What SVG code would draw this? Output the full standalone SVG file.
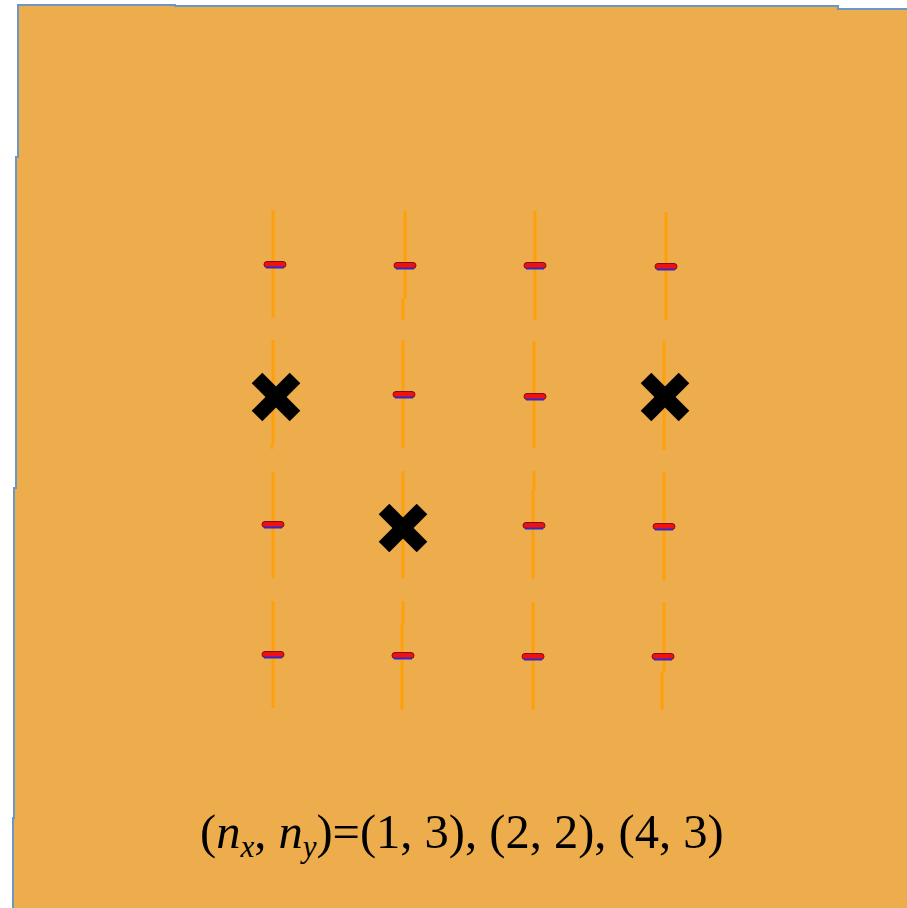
<svg xmlns="http://www.w3.org/2000/svg" width="907" height="908" viewBox="0 0 907 908">
<style>
.bg{fill:#EDAD4C}
.edge{fill:none;stroke:#6A97C4;stroke-width:2}
.ln{stroke:#FF9F0A;stroke-width:3;fill:none}
.mk{fill:#F01010;stroke:#7A1010;stroke-width:1}
.mb{stroke:#2A2AD0;stroke-width:2}
.x{stroke:#000;stroke-width:15;stroke-linecap:butt}
.t{font-family:"Liberation Serif","Times New Roman",serif;font-size:48.5px;fill:#000}
</style>
<defs>
<g id="marker">
<rect class="mk" x="-11" y="-3.5" width="22" height="6" rx="3"/>
<line class="mb" x1="-9" y1="2.5" x2="9" y2="2.5"/>
</g>
<g id="xmark">
<line class="x" x1="-19" y1="-19" x2="19" y2="19"/>
<line class="x" x1="-19" y1="19" x2="19" y2="-19"/>
</g>
</defs>
<rect width="907" height="908" fill="#FFFFFF"/>
<polygon class="bg" points="18,5 175,5 175,6 838,6 838,9 907,9 907,908 13,908 13,818 14,818 14,488 16,488 16,157 18,157"/>
<polyline class="edge" points="13,908 13,818 14,818 14,488 16,488 16,157 18,157 18,5 175,5 175,6 838,6 838,9 907,9"/>
<g id="connectors">
<line class="ln" x1="273" y1="210" x2="273" y2="318"/>
<line class="ln" x1="273" y1="340" x2="273" y2="444"/>
<line class="ln" x1="272" y1="444" x2="272" y2="449"/>
<line class="ln" x1="273" y1="472" x2="273" y2="578"/>
<line class="ln" x1="273" y1="601" x2="273" y2="708"/>
<line class="ln" x1="405" y1="211" x2="405" y2="299"/>
<line class="ln" x1="403" y1="299" x2="403" y2="320"/>
<line class="ln" x1="403" y1="340" x2="403" y2="448"/>
<line class="ln" x1="403" y1="471" x2="403" y2="578"/>
<line class="ln" x1="403" y1="601" x2="403" y2="624"/>
<line class="ln" x1="402" y1="624" x2="402" y2="710"/>
<line class="ln" x1="535" y1="211" x2="535" y2="320"/>
<line class="ln" x1="534" y1="341" x2="534" y2="448"/>
<line class="ln" x1="534" y1="471" x2="534" y2="490"/>
<line class="ln" x1="533" y1="490" x2="533" y2="579"/>
<line class="ln" x1="533" y1="602" x2="533" y2="710"/>
<line class="ln" x1="666" y1="212" x2="666" y2="320"/>
<line class="ln" x1="664" y1="341" x2="664" y2="450"/>
<line class="ln" x1="664" y1="472" x2="664" y2="580"/>
<line class="ln" x1="664" y1="602" x2="664" y2="672"/>
<line class="ln" x1="662" y1="672" x2="662" y2="710"/>
</g>
<g id="node-r1c1"><use href="#marker" x="275" y="265"/></g>
<g id="node-r1c2"><use href="#marker" x="405" y="266"/></g>
<g id="node-r1c3"><use href="#marker" x="535" y="266"/></g>
<g id="node-r1c4"><use href="#marker" x="666" y="267"/></g>
<g id="node-r2c2"><use href="#marker" x="404" y="395"/></g>
<g id="node-r2c3"><use href="#marker" x="535" y="397"/></g>
<g id="node-r3c1"><use href="#marker" x="273" y="525"/></g>
<g id="node-r3c3"><use href="#marker" x="534" y="526"/></g>
<g id="node-r3c4"><use href="#marker" x="664" y="527"/></g>
<g id="node-r4c1"><use href="#marker" x="273" y="655"/></g>
<g id="node-r4c2"><use href="#marker" x="403" y="656"/></g>
<g id="node-r4c3"><use href="#marker" x="533" y="657"/></g>
<g id="node-r4c4"><use href="#marker" x="663" y="657"/></g>
<g id="x-1-3"><use href="#xmark" x="276" y="397"/></g>
<g id="x-2-2"><use href="#xmark" x="403" y="528"/></g>
<g id="x-4-3"><use href="#xmark" x="665" y="397"/></g>
<g id="label">
<text class="t" x="200" y="848">(<tspan font-style="italic">n</tspan><tspan font-style="italic" font-size="31" dy="9">x</tspan><tspan dy="-9">, </tspan><tspan font-style="italic">n</tspan><tspan font-style="italic" font-size="31" dy="9">y</tspan><tspan dy="-9">)=(1, 3), (2, 2), (4, 3)</tspan></text>
</g>
</svg>
